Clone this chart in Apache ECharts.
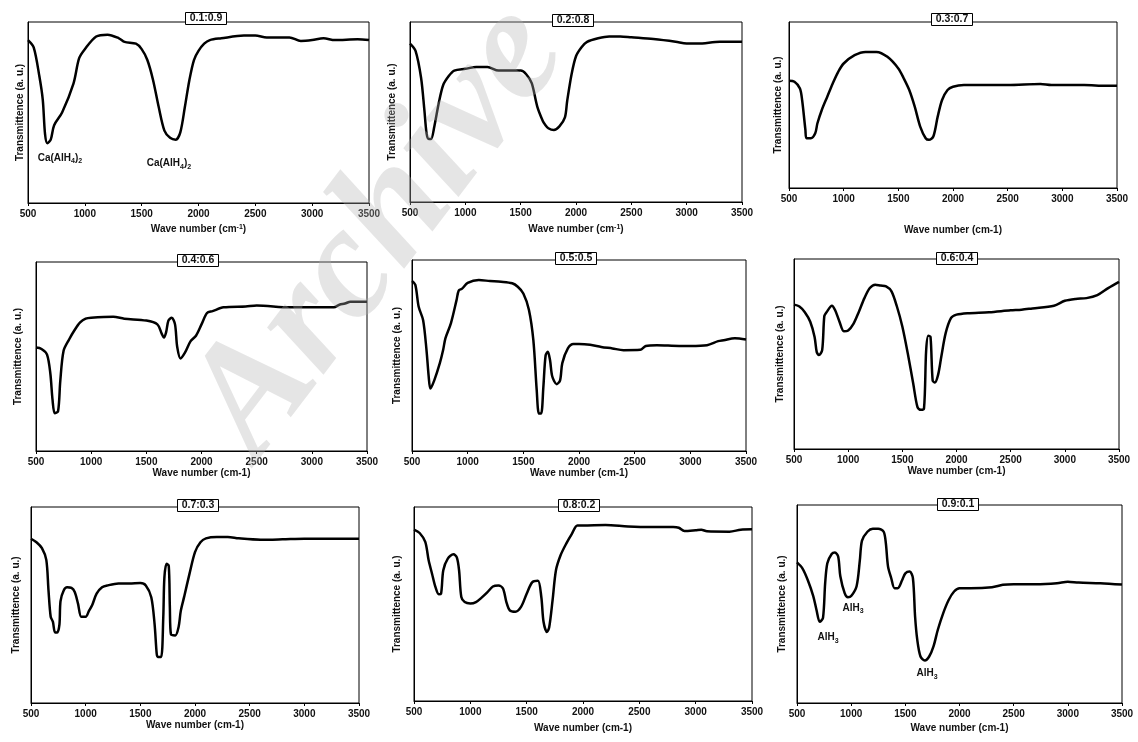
<!DOCTYPE html>
<html>
<head>
<meta charset="utf-8">
<title>FTIR spectra</title>
<script src="https://cdn.jsdelivr.net/npm/echarts@6/dist/echarts.min.js"></script>
<style>
  html, body { margin: 0; padding: 0; background: #fff; }
  #chart { width: 1138px; height: 742px; }
</style>
</head>
<body>
<div id="chart"></div>
<script>
// sample ratios (panel titles)
const ratios = ['0.1:0.9', '0.2:0.8', '0.3:0.7', '0.4:0.6', '0.5:0.5', '0.6:0.4', '0.7:0.3', '0.8:0.2', '0.9:0.1']
const xTicks = [500, 1000, 1500, 2000, 2500, 3000, 3500]

// [wave number, transmittance (a.u., 0-100 of plot height)]
const spec01 = [[500, 90], [550, 86], [600, 70], [630, 57], [650, 38], [670, 33], [700, 35], [730, 43], [800, 50], [900, 66], [950, 80], [1000, 85], [1100, 92], [1200, 93], [1300, 91], [1350, 89], [1450, 88], [1500, 85], [1550, 79], [1600, 68], [1650, 53], [1700, 40], [1750, 36], [1800, 35], [1840, 39], [1880, 53], [1920, 68], [1960, 79], [2000, 84], [2050, 88], [2100, 90], [2200, 91], [2400, 92.5], [2500, 92.5], [2600, 91.5], [2800, 91.5], [2900, 89.5], [3000, 90], [3100, 91], [3200, 90], [3400, 90.5], [3500, 90]]
const spec02 = [[500, 88], [550, 84], [600, 69], [630, 51], [650, 38], [670, 35], [690, 35], [720, 42], [760, 55], [800, 65], [850, 70], [900, 73], [1000, 74], [1100, 75], [1200, 75], [1300, 73], [1400, 73], [1500, 73], [1550, 71], [1600, 66], [1650, 53], [1700, 45], [1720, 43], [1750, 41], [1800, 40], [1850, 42], [1900, 47], [1920, 56], [1960, 71], [2000, 81], [2050, 86], [2100, 89], [2200, 91], [2300, 92], [2400, 92], [2500, 91.5], [2700, 90.5], [2900, 89], [3000, 88], [3100, 88], [3300, 89], [3500, 89]]
const spec03 = [[500, 64.6], [550, 64], [600, 60], [620, 53], [650, 35], [660, 30], [700, 30], [740, 33], [760, 39], [800, 47], [850, 55], [900, 63], [950, 70], [1000, 75], [1100, 80], [1200, 82], [1300, 82], [1400, 79], [1500, 72], [1550, 66], [1600, 59], [1650, 49], [1700, 37], [1750, 30], [1780, 29], [1820, 31], [1860, 43], [1900, 53], [1950, 59], [2000, 61], [2100, 62], [2500, 62], [2800, 62.6], [2900, 62], [3200, 62], [3400, 61.6], [3500, 61.6]]
const spec04 = [[500, 54.7], [550, 54], [600, 51], [630, 41], [650, 27], [670, 20], [700, 21], [720, 37], [750, 53], [800, 59], [850, 64], [900, 68], [950, 70], [1000, 70.5], [1200, 71], [1300, 70], [1500, 69], [1600, 67], [1640, 62], [1660, 60], [1680, 63], [1700, 69], [1730, 70.5], [1760, 67], [1780, 55], [1810, 49], [1850, 52], [1900, 58], [1950, 61], [2000, 67], [2050, 73], [2100, 74], [2200, 76], [2400, 76.5], [2500, 77], [2800, 76], [3000, 76], [3200, 76], [3250, 77.4], [3300, 78], [3350, 79], [3500, 79]]
const spec05 = [[500, 89], [530, 87], [560, 75.5], [600, 68.5], [630, 53], [650, 39], [665, 32.7], [700, 37], [750, 46], [780, 53], [800, 59], [850, 67], [900, 79], [920, 84], [950, 85], [1000, 88], [1100, 89.5], [1200, 89], [1300, 88.6], [1400, 87.8], [1450, 86], [1500, 82.5], [1550, 74], [1590, 58], [1620, 32], [1640, 19.6], [1660, 19.6], [1680, 33.6], [1700, 50], [1720, 52], [1740, 47.5], [1760, 39], [1800, 35], [1830, 37], [1850, 46], [1900, 53.7], [1950, 56], [2000, 56], [2100, 55.6], [2200, 54.5], [2300, 53.7], [2400, 52.8], [2550, 53], [2600, 55], [2700, 55.4], [2900, 55], [3000, 55], [3150, 55.4], [3250, 57.5], [3300, 58], [3400, 59], [3500, 58.4]]
const spec06 = [[500, 76], [550, 75], [600, 72], [650, 67], [690, 59], [710, 51], [730, 49.5], [760, 52], [780, 70], [800, 72], [850, 75.4], [880, 73], [920, 67], [960, 62], [1000, 62.4], [1050, 66], [1100, 72.4], [1150, 79.4], [1200, 84.7], [1250, 86.5], [1300, 86], [1350, 85.6], [1400, 83], [1450, 75], [1500, 64.5], [1550, 50.4], [1600, 34.6], [1640, 22], [1670, 20.6], [1700, 21.4], [1720, 52], [1740, 59.6], [1760, 59], [1780, 36], [1800, 35], [1830, 39], [1860, 48.7], [1900, 61], [1950, 69], [2000, 70.7], [2100, 71.5], [2300, 72], [2500, 73], [2600, 73.3], [2700, 74], [2900, 75.4], [3000, 78], [3100, 79], [3200, 79.4], [3300, 81], [3400, 84.7], [3500, 88]]
const spec07 = [[500, 83.8], [550, 82], [600, 79], [640, 73], [660, 57.5], [680, 44], [700, 41.5], [720, 36], [740, 36], [760, 40], [770, 52], [800, 57.5], [830, 59], [870, 58.7], [900, 56.6], [930, 50.7], [960, 44], [1000, 44], [1030, 47], [1060, 50], [1100, 55.8], [1150, 59], [1200, 60], [1300, 61], [1400, 61], [1500, 61.2], [1550, 60], [1600, 54], [1630, 40.5], [1650, 25], [1660, 23.5], [1690, 23.5], [1710, 44], [1720, 64], [1740, 71], [1760, 70], [1770, 49], [1780, 35], [1820, 34.5], [1850, 38.8], [1870, 47], [1900, 54], [1950, 66], [2000, 77], [2050, 82], [2100, 84], [2200, 84.7], [2300, 84.7], [2400, 84], [2600, 83.3], [2800, 83.5], [3000, 83.8], [3500, 83.8]]
const spec08 = [[500, 88.3], [550, 86.6], [600, 82], [630, 72.5], [660, 65.6], [690, 58.8], [720, 55], [740, 55.3], [760, 67.4], [800, 73.4], [850, 75.6], [880, 74], [900, 67.4], [920, 53.6], [950, 51], [1000, 50.3], [1050, 51], [1100, 53.3], [1150, 56], [1200, 59], [1250, 59.5], [1290, 58], [1320, 51], [1350, 46.7], [1400, 46], [1450, 48.5], [1500, 55.3], [1550, 61.3], [1600, 62], [1630, 53.6], [1650, 40.7], [1680, 35.6], [1700, 38], [1730, 52], [1760, 67.4], [1800, 75], [1850, 81], [1900, 86], [1950, 90.5], [2000, 90.5], [2200, 90.7], [2400, 90], [2600, 89.7], [2800, 89.7], [2850, 89.3], [2900, 87.6], [3000, 88], [3050, 88.3], [3100, 87.5], [3300, 87.3], [3400, 88.3], [3500, 88.5]]
const spec09 = [[500, 71], [550, 68], [600, 62], [650, 54], [680, 47], [710, 41], [740, 43], [760, 60.5], [780, 70.6], [820, 75.3], [850, 76], [880, 74], [900, 64], [940, 55.5], [970, 53.4], [1000, 54], [1050, 59], [1080, 72], [1100, 82], [1150, 86.5], [1200, 88], [1250, 88], [1300, 86.5], [1320, 80.7], [1340, 69], [1370, 63], [1400, 58], [1430, 58], [1470, 62], [1500, 65.5], [1540, 66.4], [1570, 63], [1590, 43.7], [1610, 32], [1640, 23.5], [1680, 21.5], [1720, 23.5], [1760, 28.6], [1800, 37], [1850, 45.4], [1900, 52], [1950, 56.3], [2000, 58], [2100, 58], [2300, 58.5], [2400, 59.7], [2500, 60], [2700, 60], [2900, 60.5], [3000, 61.3], [3100, 60.8], [3300, 60.5], [3500, 59.8]]
const spectra = [spec01, spec02, spec03, spec04, spec05, spec06, spec07, spec08, spec09]

// peak assignments: [panel, wave number, transmittance, label]
const peakNotes = [
  [0, 781, 25, '{t|Ca(AlH}{s|4}{t|)}{s|2}'],
  [0, 1740, 22, '{t|Ca(AlH}{s|4}{t|)}{s|2}'],
  [8, 786, 33, '{t|AlH}{s|3}'],
  [8, 1017, 48, '{t|AlH}{s|3}'],
  [8, 1700, 15, '{t|AlH}{s|3}']
]

// panel boxes, label gaps (pixels)
const layouts = [
  { left: 28, top: 22, width: 341, height: 181, tx: 202, ty: 19, yGap: 3, xGap: 21, sup: true },
  { left: 410, top: 22, width: 332, height: 180, tx: 569, ty: 21, yGap: 13, xGap: 22, sup: true },
  { left: 789, top: 22, width: 328, height: 166, tx: 948, ty: 20, yGap: 6, xGap: 37 },
  { left: 36, top: 262, width: 331, height: 189, tx: 194, ty: 261, yGap: 13, xGap: 15 },
  { left: 412, top: 260, width: 334, height: 191, tx: 572, ty: 259, yGap: 10, xGap: 15 },
  { left: 794, top: 259, width: 325, height: 190, tx: 953, ty: 259, yGap: 9, xGap: 17 },
  { left: 31, top: 507, width: 328, height: 196, tx: 194, ty: 506, yGap: 10, xGap: 13 },
  { left: 414, top: 507, width: 338, height: 194, tx: 575, ty: 506, yGap: 12, xGap: 22 },
  { left: 797, top: 505, width: 325, height: 198, tx: 954, ty: 505, yGap: 10, xGap: 20 }
]

const font = 'Liberation Sans, Arial, sans-serif'
const chart = echarts.init(document.getElementById('chart'))

const grid = layouts.map(l => ({
  left: l.left, top: l.top, width: l.width, height: l.height,
  show: true, borderColor: '#000', borderWidth: 1, containLabel: false
}))

const xAxis = layouts.map((l, i) => ({
  type: 'value',
  gridIndex: i,
  min: xTicks[0],
  max: xTicks[xTicks.length - 1],
  interval: xTicks[1] - xTicks[0],
  name: l.sup ? 'Wave number (cm{sup|-1})' : 'Wave number (cm-1)',
  nameLocation: 'middle',
  nameGap: l.xGap,
  nameTextStyle: {
    fontFamily: font, fontWeight: 'bold', fontSize: 10, color: '#111',
    rich: { sup: { fontFamily: font, fontWeight: 'bold', fontSize: 7, verticalAlign: 'top', lineHeight: 8 } }
  },
  axisLine: { show: true, lineStyle: { color: '#000', width: 1 } },
  axisTick: { show: true, length: 3, lineStyle: { color: '#000' } },
  axisLabel: {
    fontFamily: font, fontWeight: 'bold', fontSize: 10, color: '#111', margin: 6,
    formatter: v => String(v)
  },
  splitLine: { show: false }
}))

const yAxis = layouts.map((l, i) => ({
  type: 'value',
  gridIndex: i,
  min: 0,
  max: 100,
  name: 'Transmittence (a. u.)',
  nameLocation: 'middle',
  nameGap: l.yGap,
  nameTextStyle: { fontFamily: font, fontWeight: 'bold', fontSize: 10, color: '#111' },
  axisLine: { show: true, lineStyle: { color: '#000', width: 1 } },
  axisTick: { show: false },
  axisLabel: { show: false },
  splitLine: { show: false }
}))

const title = layouts.map((l, i) => ({
  text: ratios[i],
  left: l.tx,
  top: l.ty - 7,
  textAlign: 'center',
  padding: [1, 4, 1, 4],
  borderColor: '#000',
  borderWidth: 1,
  backgroundColor: '#fff',
  textStyle: { fontFamily: font, fontWeight: 'bold', fontSize: 10.5, lineHeight: 11, color: '#111' }
}))

const series = spectra.map((d, i) => ({
  type: 'line',
  xAxisIndex: i,
  yAxisIndex: i,
  data: d,
  showSymbol: false,
  smooth: 0.3,
  lineStyle: { color: '#000', width: 2.5 },
  silent: true,
  animation: false,
  markPoint: {
    symbol: 'circle',
    symbolSize: 0,
    silent: true,
    label: {
      show: true,
      position: 'inside',
      formatter: p => p.name,
      rich: {
        t: { fontFamily: font, fontWeight: 'bold', fontSize: 10, color: '#111', lineHeight: 14 },
        s: { fontFamily: font, fontWeight: 'bold', fontSize: 7, color: '#111', lineHeight: 14, verticalAlign: 'bottom' }
      }
    },
    data: peakNotes.filter(n => n[0] === i).map(n => ({ name: n[3], coord: [n[1], n[2]] }))
  }
}))

chart.setOption({
  animation: false,
  backgroundColor: '#fff',
  title,
  grid,
  xAxis,
  yAxis,
  series,
  graphic: [{
    type: 'text',
    x: 380,
    y: 232,
    rotation: 0.92,
    z: 100,
    silent: true,
    style: {
      text: 'Archive',
      font: 'italic bold 160px "Liberation Serif", "Times New Roman", serif',
      fill: 'rgba(175,175,175,0.33)',
      align: 'center',
      verticalAlign: 'middle'
    }
  }]
})
</script>
</body>
</html>
